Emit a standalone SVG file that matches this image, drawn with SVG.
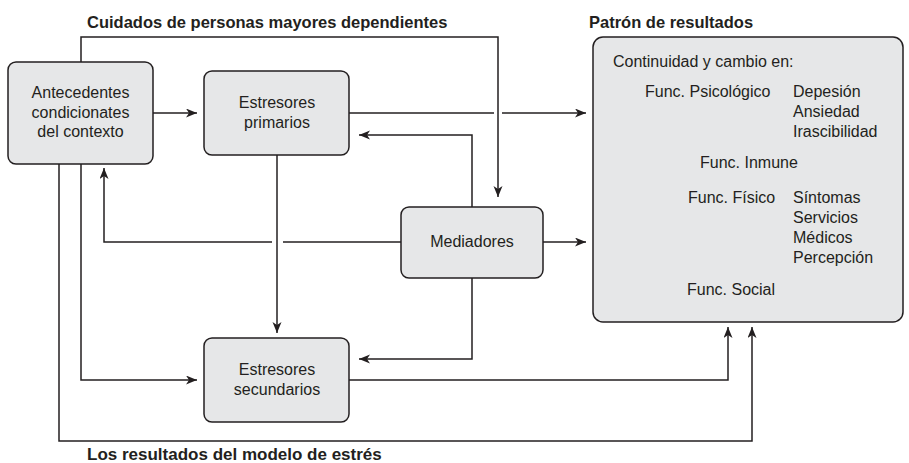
<svg xmlns="http://www.w3.org/2000/svg" width="909" height="463" viewBox="0 0 909 463">
<style>
.box{fill:#e6e7e8;stroke:#231f20;stroke-width:1.5}
.t{font-family:"Liberation Sans",Arial,sans-serif;font-size:16px;fill:#231f20}
.c{text-anchor:middle}
.h{font-family:"Liberation Sans",Arial,sans-serif;font-size:16.5px;font-weight:bold;fill:#231f20}
.ln{fill:none;stroke:#231f20;stroke-width:1.5}
</style>
<defs>
<marker id="ah" markerUnits="userSpaceOnUse" markerWidth="12" markerHeight="10" refX="11" refY="4.5" orient="auto">
<path d="M0,0 L11,4.5 L0,9 L3,4.5 z" fill="#231f20"/>
</marker>
</defs>
<rect width="909" height="463" fill="#ffffff"/>
<text class="h" x="87" y="28">Cuidados de personas mayores dependientes</text>
<text class="h" x="589" y="28">Patrón de resultados</text>
<text class="h" x="87" y="460" style="font-size:17px">Los resultados del modelo de estrés</text>
<g id="connectors">
<path class="ln" d="M81,62 V37 H498 V197" marker-end="url(#ah)"/>
<path class="ln" d="M153,113 H197" marker-end="url(#ah)"/>
<path class="ln" d="M349,113 H494"/>
<path class="ln" d="M502,113 H586" marker-end="url(#ah)"/>
<path class="ln" d="M472,207 V135 H359" marker-end="url(#ah)"/>
<path class="ln" d="M277,155 V333" marker-end="url(#ah)"/>
<path class="ln" d="M401,242 H283"/>
<path class="ln" d="M272,242 H104 V168" marker-end="url(#ah)"/>
<path class="ln" d="M543,242 H586" marker-end="url(#ah)"/>
<path class="ln" d="M472,278 V359 H359" marker-end="url(#ah)"/>
<path class="ln" d="M81,164 V380 H197" marker-end="url(#ah)"/>
<path class="ln" d="M349,380 H728 V327" marker-end="url(#ah)"/>
<path class="ln" d="M59,164 V441 H752 V327" marker-end="url(#ah)"/>
</g>
<g id="antecedentes">
<rect class="box" x="8" y="62" width="145" height="102" rx="8"/>
<text class="t c" x="80.5" y="98">Antecedentes</text>
<text class="t c" x="80.5" y="117.5">condicionates</text>
<text class="t c" x="80.5" y="137">del contexto</text>
</g>
<g id="estresores-primarios">
<rect class="box" x="204" y="71" width="145" height="84" rx="8"/>
<text class="t c" x="277" y="108">Estresores</text>
<text class="t c" x="277" y="127.5">primarios</text>
</g>
<g id="mediadores">
<rect class="box" x="401" y="207" width="142" height="71" rx="8"/>
<text class="t c" x="472" y="247">Mediadores</text>
</g>
<g id="estresores-secundarios">
<rect class="box" x="204" y="338" width="145" height="84" rx="8"/>
<text class="t c" x="277" y="375">Estresores</text>
<text class="t c" x="277" y="394.5">secundarios</text>
</g>
<g id="patron">
<rect class="box" x="593" y="37" width="310" height="285" rx="10"/>
<text class="t" x="613" y="67">Continuidad y cambio en:</text>
<text class="t" x="645" y="97">Func. Psicológico</text>
<text class="t" x="793" y="97">Depesión</text>
<text class="t" x="793" y="117">Ansiedad</text>
<text class="t" x="793" y="137">Irascibilidad</text>
<text class="t" x="700" y="168">Func. Inmune</text>
<text class="t" x="688" y="203">Func. Físico</text>
<text class="t" x="793" y="203">Síntomas</text>
<text class="t" x="793" y="223">Servicios</text>
<text class="t" x="793" y="243">Médicos</text>
<text class="t" x="793" y="263">Percepción</text>
<text class="t" x="687" y="295">Func. Social</text>
</g>
</svg>
